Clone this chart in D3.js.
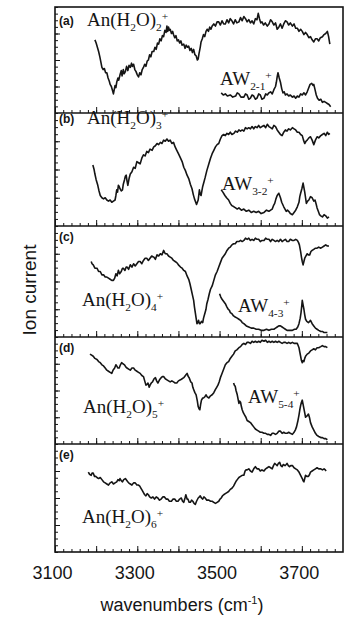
<!DOCTYPE html>
<html><head><meta charset="utf-8">
<script src="https://cdn.jsdelivr.net/npm/d3@7"></script>
<style>
html,body{margin:0;padding:0;background:#fff;}
svg{display:block;}
</style></head>
<body>
<svg id="c" width="349" height="617"></svg>
<script>
// ---- data: [wavenumber (cm-1), relative ion current within panel] ----
const specA = [[3197,.69],[3200,.66],[3203,.62],[3206,.58],[3209,.53],[3212,.47],[3214,.43],[3217,.41],[3220,.42],[3223,.38],[3226,.38],[3229,.33],[3232,.30],[3234,.27],[3237,.25],[3240,.21],[3242,.18],[3244,.22],[3246,.26],[3248,.24],[3250,.29],[3253,.33],[3255,.31],[3258,.36],[3261,.40],[3263,.35],[3266,.41],[3268,.37],[3271,.39],[3274,.44],[3277,.40],[3280,.45],[3283,.43],[3286,.47],[3288,.44],[3291,.46],[3294,.41],[3297,.39],[3300,.36],[3303,.34],[3306,.38],[3309,.36],[3312,.41],[3315,.43],[3318,.46],[3321,.44],[3324,.49],[3327,.50],[3330,.55],[3333,.53],[3336,.58],[3340,.58],[3343,.62],[3346,.60],[3349,.66],[3352,.65],[3355,.70],[3358,.68],[3361,.73],[3364,.72],[3367,.78],[3370,.76],[3372,.82],[3374,.77],[3376,.81],[3378,.78],[3380,.79],[3383,.75],[3386,.77],[3388,.74],[3391,.71],[3394,.73],[3397,.68],[3400,.69],[3403,.66],[3406,.68],[3409,.64],[3413,.65],[3416,.61],[3419,.64],[3422,.62],[3425,.63],[3428,.59],[3431,.61],[3434,.57],[3437,.60],[3440,.55],[3443,.54],[3446,.50],[3448,.51],[3450,.56],[3453,.62],[3455,.67],[3458,.70],[3461,.74],[3464,.72],[3467,.77],[3470,.79],[3473,.77],[3476,.81],[3479,.79],[3482,.82],[3486,.84],[3490,.82],[3494,.86],[3498,.86],[3502,.83],[3506,.87],[3510,.84],[3514,.84],[3518,.88],[3522,.85],[3526,.89],[3530,.87],[3534,.84],[3538,.88],[3542,.85],[3547,.86],[3551,.90],[3555,.87],[3559,.91],[3563,.89],[3567,.86],[3571,.88],[3575,.85],[3579,.87],[3583,.84],[3587,.89],[3591,.88],[3594,.94],[3597,.89],[3600,.85],[3603,.86],[3607,.83],[3611,.85],[3616,.82],[3620,.84],[3624,.88],[3628,.86],[3632,.83],[3636,.85],[3640,.79],[3644,.81],[3648,.84],[3652,.80],[3656,.84],[3660,.87],[3664,.86],[3668,.83],[3672,.85],[3677,.82],[3681,.84],[3685,.80],[3689,.80],[3693,.77],[3697,.79],[3701,.77],[3705,.74],[3709,.76],[3713,.74],[3717,.71],[3721,.72],[3725,.69],[3729,.67],[3733,.70],[3737,.70],[3741,.68],[3745,.71],[3750,.72],[3754,.74],[3758,.75],[3762,.77],[3765,.72],[3768,.65]];
const awA = [[3504,.19],[3509,.17],[3514,.18],[3519,.16],[3526,.17],[3532,.15],[3539,.16],[3543,.19],[3547,.18],[3552,.15],[3559,.15],[3563,.18],[3567,.17],[3571,.13],[3575,.14],[3579,.17],[3583,.16],[3587,.13],[3591,.14],[3595,.18],[3599,.17],[3603,.13],[3608,.14],[3612,.18],[3616,.17],[3620,.19],[3624,.20],[3628,.18],[3632,.22],[3636,.25],[3638,.29],[3640,.34],[3642,.38],[3645,.33],[3648,.29],[3651,.23],[3654,.19],[3657,.20],[3660,.17],[3664,.18],[3668,.16],[3672,.17],[3677,.15],[3681,.16],[3685,.14],[3689,.16],[3693,.15],[3697,.18],[3701,.17],[3705,.19],[3709,.17],[3713,.20],[3717,.24],[3720,.27],[3724,.28],[3727,.26],[3729,.27],[3732,.22],[3735,.17],[3738,.14],[3742,.12],[3746,.13],[3750,.10],[3754,.11],[3758,.10],[3762,.09],[3766,.08],[3770,.06]];
const specB = [[3192,.54],[3195,.50],[3197,.46],[3200,.41],[3204,.36],[3207,.31],[3210,.27],[3214,.25],[3218,.24],[3222,.25],[3226,.23],[3230,.22],[3234,.23],[3238,.21],[3242,.22],[3246,.23],[3248,.27],[3250,.32],[3252,.30],[3254,.36],[3256,.35],[3258,.33],[3261,.31],[3264,.32],[3266,.37],[3269,.41],[3271,.44],[3273,.45],[3275,.40],[3277,.36],[3280,.42],[3283,.46],[3287,.48],[3291,.52],[3295,.51],[3299,.57],[3303,.56],[3307,.55],[3311,.60],[3315,.63],[3319,.62],[3323,.66],[3327,.65],[3331,.68],[3336,.67],[3340,.70],[3344,.71],[3348,.73],[3352,.72],[3356,.74],[3360,.73],[3364,.76],[3368,.75],[3372,.77],[3376,.75],[3380,.76],[3384,.73],[3388,.74],[3392,.70],[3396,.67],[3400,.64],[3404,.61],[3409,.57],[3413,.52],[3417,.49],[3421,.45],[3425,.42],[3429,.37],[3433,.33],[3436,.28],[3439,.24],[3442,.21],[3444,.19],[3446,.21],[3448,.23],[3450,.29],[3451,.32],[3453,.28],[3455,.27],[3457,.31],[3459,.35],[3462,.39],[3465,.43],[3469,.49],[3474,.55],[3478,.60],[3482,.64],[3486,.67],[3490,.70],[3494,.72],[3498,.73],[3502,.77],[3506,.80],[3510,.81],[3514,.80],[3518,.82],[3522,.81],[3526,.83],[3530,.81],[3535,.82],[3539,.84],[3543,.83],[3547,.85],[3551,.84],[3555,.85],[3559,.84],[3563,.87],[3567,.86],[3571,.87],[3575,.86],[3579,.88],[3583,.86],[3587,.88],[3591,.87],[3595,.89],[3599,.87],[3603,.88],[3608,.89],[3612,.87],[3616,.90],[3620,.88],[3624,.87],[3628,.86],[3632,.89],[3636,.88],[3640,.85],[3644,.83],[3648,.81],[3652,.80],[3656,.83],[3660,.85],[3664,.84],[3668,.86],[3672,.85],[3677,.87],[3681,.86],[3685,.85],[3689,.83],[3693,.83],[3697,.81],[3701,.80],[3704,.76],[3707,.73],[3710,.75],[3713,.76],[3717,.78],[3721,.79],[3725,.76],[3729,.72],[3733,.76],[3737,.79],[3741,.78],[3746,.80],[3750,.81],[3754,.82],[3758,.80],[3762,.83],[3765,.81],[3768,.82]];
const awB = [[3504,.32],[3508,.30],[3513,.27],[3517,.25],[3522,.23],[3526,.20],[3530,.18],[3535,.17],[3539,.16],[3543,.15],[3547,.16],[3553,.14],[3559,.15],[3565,.13],[3571,.14],[3577,.12],[3583,.13],[3589,.12],[3595,.13],[3601,.11],[3608,.12],[3614,.14],[3620,.13],[3624,.14],[3628,.15],[3631,.18],[3634,.20],[3637,.24],[3640,.27],[3644,.29],[3648,.25],[3651,.21],[3656,.17],[3659,.15],[3662,.13],[3665,.14],[3668,.13],[3672,.11],[3677,.10],[3681,.12],[3685,.14],[3689,.17],[3693,.21],[3695,.26],[3697,.29],[3700,.33],[3703,.38],[3705,.34],[3707,.30],[3709,.25],[3711,.20],[3714,.22],[3717,.23],[3721,.26],[3725,.25],[3729,.22],[3732,.23],[3735,.19],[3737,.16],[3740,.13],[3743,.10],[3746,.09],[3750,.08],[3754,.10],[3758,.09],[3762,.07],[3766,.08]];
const specC = [[3188,.68],[3190,.66],[3193,.65],[3197,.62],[3202,.62],[3206,.59],[3210,.59],[3214,.56],[3218,.56],[3222,.54],[3226,.54],[3230,.53],[3234,.52],[3238,.51],[3242,.51],[3245,.53],[3248,.57],[3251,.55],[3254,.60],[3257,.57],[3261,.59],[3264,.62],[3266,.62],[3270,.60],[3273,.63],[3275,.63],[3279,.61],[3283,.65],[3287,.63],[3291,.66],[3295,.64],[3299,.66],[3303,.68],[3307,.68],[3311,.66],[3315,.69],[3319,.71],[3323,.71],[3327,.69],[3331,.71],[3335,.73],[3340,.72],[3344,.70],[3348,.74],[3352,.73],[3356,.75],[3360,.74],[3364,.78],[3368,.75],[3372,.75],[3376,.73],[3380,.72],[3384,.71],[3388,.69],[3392,.68],[3396,.67],[3400,.65],[3405,.63],[3409,.62],[3413,.60],[3417,.59],[3421,.55],[3425,.52],[3428,.48],[3431,.43],[3434,.38],[3437,.33],[3439,.27],[3441,.22],[3443,.17],[3445,.12],[3447,.13],[3449,.15],[3451,.12],[3453,.12],[3456,.14],[3459,.13],[3461,.17],[3464,.21],[3467,.25],[3469,.30],[3472,.34],[3475,.39],[3478,.43],[3482,.46],[3486,.51],[3490,.56],[3494,.59],[3498,.63],[3502,.67],[3506,.71],[3510,.73],[3514,.75],[3518,.78],[3522,.80],[3526,.81],[3530,.83],[3534,.84],[3538,.84],[3542,.86],[3547,.86],[3551,.87],[3555,.86],[3559,.87],[3563,.89],[3567,.88],[3571,.89],[3575,.87],[3579,.88],[3583,.87],[3587,.89],[3591,.88],[3595,.88],[3599,.86],[3603,.87],[3608,.87],[3612,.89],[3616,.88],[3620,.88],[3624,.86],[3628,.88],[3632,.87],[3636,.86],[3640,.87],[3644,.86],[3648,.88],[3652,.86],[3656,.87],[3660,.88],[3664,.86],[3668,.86],[3672,.88],[3677,.87],[3681,.87],[3685,.88],[3689,.87],[3692,.85],[3694,.83],[3697,.77],[3699,.72],[3701,.68],[3703,.65],[3705,.68],[3707,.71],[3710,.73],[3713,.75],[3716,.74],[3719,.74],[3722,.77],[3725,.78],[3729,.79],[3733,.80],[3737,.80],[3741,.81],[3746,.80],[3750,.81],[3754,.82],[3758,.83],[3762,.82],[3766,.82]];
const awC = [[3500,.39],[3503,.36],[3506,.34],[3510,.32],[3514,.30],[3518,.27],[3521,.25],[3524,.24],[3526,.22],[3530,.21],[3534,.19],[3538,.18],[3543,.17],[3547,.16],[3551,.15],[3555,.13],[3559,.12],[3565,.10],[3571,.09],[3577,.08],[3583,.08],[3589,.07],[3595,.07],[3601,.06],[3608,.06],[3614,.07],[3620,.06],[3626,.07],[3632,.07],[3636,.08],[3640,.09],[3644,.10],[3648,.10],[3652,.09],[3656,.08],[3660,.07],[3664,.06],[3670,.06],[3677,.06],[3682,.07],[3686,.07],[3690,.09],[3693,.12],[3696,.17],[3698,.22],[3700,.29],[3701,.33],[3703,.29],[3705,.25],[3707,.20],[3709,.16],[3712,.14],[3716,.13],[3719,.14],[3721,.15],[3725,.12],[3729,.10],[3733,.08],[3737,.07],[3741,.06],[3746,.05],[3750,.05],[3754,.04],[3758,.04],[3762,.04]];
const specD = [[3185,.84],[3189,.83],[3193,.82],[3197,.80],[3202,.79],[3206,.77],[3210,.76],[3214,.74],[3218,.73],[3222,.71],[3226,.69],[3230,.68],[3234,.67],[3238,.66],[3241,.69],[3245,.71],[3248,.74],[3250,.73],[3253,.71],[3256,.71],[3259,.74],[3262,.76],[3265,.75],[3269,.74],[3272,.72],[3275,.71],[3279,.70],[3283,.69],[3287,.71],[3291,.71],[3295,.69],[3299,.68],[3303,.67],[3307,.66],[3311,.64],[3315,.63],[3318,.59],[3321,.55],[3324,.56],[3326,.57],[3329,.53],[3331,.55],[3334,.57],[3337,.58],[3341,.61],[3344,.62],[3347,.59],[3350,.57],[3354,.60],[3358,.62],[3361,.63],[3364,.63],[3368,.61],[3372,.60],[3376,.59],[3380,.58],[3384,.59],[3388,.58],[3392,.57],[3396,.57],[3400,.59],[3405,.60],[3409,.61],[3413,.62],[3417,.64],[3421,.66],[3424,.63],[3426,.62],[3430,.58],[3433,.57],[3435,.53],[3437,.51],[3440,.48],[3443,.46],[3446,.40],[3448,.35],[3450,.33],[3452,.32],[3454,.37],[3456,.41],[3459,.43],[3461,.43],[3464,.44],[3467,.46],[3470,.44],[3474,.43],[3478,.45],[3482,.46],[3486,.48],[3490,.51],[3493,.53],[3496,.55],[3499,.58],[3502,.62],[3505,.65],[3508,.68],[3511,.71],[3514,.74],[3518,.76],[3522,.77],[3526,.80],[3530,.82],[3534,.84],[3538,.87],[3542,.88],[3547,.90],[3551,.91],[3555,.93],[3559,.94],[3563,.93],[3567,.95],[3571,.95],[3575,.94],[3579,.96],[3583,.95],[3587,.96],[3591,.95],[3595,.96],[3599,.95],[3603,.97],[3608,.96],[3612,.97],[3616,.95],[3620,.96],[3624,.95],[3628,.96],[3632,.95],[3636,.96],[3640,.95],[3644,.96],[3648,.95],[3652,.94],[3656,.95],[3660,.95],[3664,.94],[3668,.95],[3672,.94],[3677,.95],[3681,.94],[3685,.94],[3689,.94],[3691,.92],[3693,.90],[3695,.86],[3697,.82],[3699,.78],[3701,.76],[3703,.78],[3705,.77],[3707,.80],[3709,.82],[3713,.84],[3717,.85],[3721,.87],[3725,.88],[3729,.89],[3733,.88],[3737,.90],[3741,.90],[3746,.91],[3750,.92],[3754,.91],[3758,.91],[3762,.90]];
const awD = [[3534,.57],[3536,.55],[3538,.54],[3540,.50],[3543,.46],[3545,.42],[3547,.38],[3549,.40],[3551,.39],[3553,.35],[3555,.32],[3558,.29],[3561,.27],[3564,.25],[3567,.22],[3571,.21],[3575,.20],[3579,.18],[3583,.16],[3587,.14],[3591,.13],[3595,.12],[3599,.11],[3603,.11],[3608,.10],[3612,.10],[3616,.09],[3620,.09],[3624,.08],[3628,.10],[3632,.10],[3636,.09],[3640,.10],[3644,.12],[3648,.12],[3652,.10],[3656,.11],[3660,.10],[3664,.10],[3668,.11],[3672,.10],[3677,.09],[3681,.11],[3684,.13],[3687,.16],[3690,.21],[3693,.27],[3695,.32],[3697,.36],[3699,.39],[3701,.41],[3703,.37],[3705,.33],[3707,.29],[3709,.25],[3712,.26],[3716,.28],[3719,.24],[3721,.20],[3725,.16],[3729,.13],[3733,.10],[3737,.08],[3741,.07],[3746,.06],[3750,.06],[3754,.05],[3758,.05],[3762,.04]];
const specE = [[3181,.74],[3184,.72],[3188,.71],[3190,.73],[3193,.73],[3196,.70],[3199,.70],[3202,.69],[3206,.68],[3210,.69],[3214,.67],[3218,.65],[3222,.64],[3226,.63],[3230,.62],[3234,.64],[3238,.65],[3242,.63],[3246,.64],[3250,.65],[3253,.67],[3256,.66],[3258,.68],[3261,.66],[3264,.65],[3267,.67],[3271,.68],[3275,.66],[3279,.64],[3283,.63],[3287,.62],[3291,.64],[3295,.64],[3299,.62],[3303,.62],[3306,.61],[3309,.59],[3312,.57],[3315,.55],[3318,.53],[3321,.52],[3324,.54],[3327,.53],[3330,.51],[3334,.50],[3338,.51],[3342,.49],[3346,.51],[3350,.50],[3354,.48],[3358,.49],[3362,.51],[3366,.51],[3370,.49],[3374,.49],[3378,.47],[3383,.47],[3387,.49],[3391,.49],[3395,.47],[3399,.47],[3403,.49],[3407,.50],[3410,.47],[3413,.46],[3416,.50],[3418,.53],[3421,.49],[3423,.49],[3426,.46],[3429,.46],[3432,.48],[3435,.47],[3438,.45],[3441,.44],[3444,.47],[3448,.50],[3451,.51],[3453,.52],[3456,.50],[3459,.49],[3462,.51],[3465,.50],[3469,.48],[3474,.48],[3478,.47],[3482,.47],[3486,.46],[3490,.45],[3494,.46],[3498,.47],[3501,.49],[3504,.50],[3507,.52],[3510,.53],[3514,.54],[3518,.55],[3522,.56],[3526,.58],[3530,.59],[3534,.61],[3538,.64],[3541,.66],[3543,.67],[3547,.69],[3551,.70],[3555,.71],[3559,.71],[3562,.75],[3564,.76],[3567,.76],[3571,.77],[3575,.75],[3579,.74],[3583,.77],[3587,.79],[3591,.77],[3595,.77],[3599,.75],[3603,.76],[3608,.75],[3612,.77],[3616,.78],[3620,.79],[3624,.78],[3628,.77],[3631,.80],[3634,.82],[3637,.81],[3640,.80],[3643,.82],[3646,.83],[3649,.80],[3652,.79],[3655,.81],[3659,.80],[3662,.81],[3664,.82],[3667,.80],[3670,.79],[3673,.80],[3677,.80],[3681,.78],[3685,.77],[3689,.76],[3693,.74],[3697,.71],[3701,.68],[3703,.66],[3705,.65],[3707,.68],[3709,.71],[3712,.70],[3716,.70],[3719,.72],[3721,.74],[3725,.75],[3729,.76],[3733,.77],[3737,.78],[3741,.77],[3746,.77],[3750,.76],[3754,.77],[3757,.76],[3759,.75]];

const spectra = [specA, specB, specC, specD, specE];
const awSpectra = [awA, awB, awC, awD, null];
const panelLabels = ["(a)", "(b)", "(c)", "(d)", "(e)"];
const clusterSizes = ["2", "3", "4", "5", "6"];
const awSubscripts = ["2-1", "3-2", "4-3", "5-4", null];
const tickLabels = [3100, 3300, 3500, 3700];
const xLabel = "wavenumbers (cm";
const yLabel = "Ion current";

// ---- layout ----
const L = 55, R = 343;
const edges = [7, 113, 226, 337, 444, 552];
// label placement per panel: [x, baseline offset from panel top]
const titlePos = [[87, 19], [87, 11], [82, 80], [83, 76], [82, 79]];
const awPos = [[220, 78], [222, 77], [238, 86], [248, 66], null];

const svg = d3.select("#c");
const x = d3.scaleLinear().domain([3100, 3800]).range([L, R]);

const serif = "'Liberation Serif','Times New Roman',serif";
const sans = "'Liberation Sans',Arial,Helvetica,sans-serif";
const ink = "#151515";

function richText(g, xx, yy, size, parts) {
  const t = g.append("text").attr("x", xx).attr("y", yy)
    .attr("font-family", serif).attr("font-size", size).attr("fill", ink);
  let shift = 0;
  parts.forEach(p => {
    const target = p.mode === "sub" ? size * 0.26 : p.mode === "sup" ? -size * 0.33 : 0;
    const fs = p.mode ? size * 0.6 : size;
    t.append("tspan").attr("dy", target - shift).attr("font-size", fs).text(p.t);
    shift = target;
  });
  return t;
}

for (let i = 0; i < 5; i++) {
  const top = edges[i], bot = edges[i + 1];
  const y = d3.scaleLinear().domain([0, 1]).range([bot, top]);
  const g = svg.append("g");

  // bottom ticks (pointing into panel)
  g.append("g").attr("transform", `translate(0,${bot})`)
    .call(d3.axisBottom(x).tickValues(d3.range(3100, 3800, 20)).tickSize(-3).tickFormat(""))
    .call(s => s.select(".domain").remove());
  g.append("g").attr("transform", `translate(0,${bot})`)
    .call(d3.axisBottom(x).tickValues(d3.range(3100, 3800, 100)).tickSize(-6).tickFormat(""))
    .call(s => s.select(".domain").remove());
  // left ticks
  g.append("g").attr("transform", `translate(${L},0)`)
    .call(d3.axisLeft(y).tickValues(d3.range(0, 1.001, 1 / 16)).tickSize(-3).tickFormat(""))
    .call(s => s.select(".domain").remove());
  g.append("g").attr("transform", `translate(${L},0)`)
    .call(d3.axisLeft(y).tickValues([0.25, 0.5, 0.75]).tickSize(-5).tickFormat(""))
    .call(s => s.select(".domain").remove());

  const line = d3.line().x(d => x(d[0])).y(d => y(d[1]));
  g.append("path").datum(spectra[i]).attr("d", line)
    .attr("fill", "none").attr("stroke", ink).attr("stroke-width", 1.6).attr("stroke-linejoin", "round");
  if (awSpectra[i]) {
    g.append("path").datum(awSpectra[i]).attr("d", line)
      .attr("fill", "none").attr("stroke", ink).attr("stroke-width", 1.6).attr("stroke-linejoin", "round");
  }

  // panel letter
  g.append("text").attr("x", L + 4).attr("y", top + (i < 2 ? titlePos[i][1] - 1 : 15))
    .attr("font-family", sans).attr("font-weight", "bold").attr("font-size", 12).attr("fill", ink)
    .text(panelLabels[i]);
  // cluster title
  const tp = titlePos[i];
  richText(g, tp[0], top + tp[1], 19, [
    { t: "An(H" }, { t: "2", mode: "sub" }, { t: "O)" }, { t: clusterSizes[i], mode: "sub" }, { t: "+", mode: "sup" }
  ]);
  if (awPos[i]) {
    richText(g, awPos[i][0], top + awPos[i][1], 19, [
      { t: "AW" }, { t: awSubscripts[i], mode: "sub" }, { t: "+", mode: "sup" }
    ]);
  }
}

// frame
svg.append("rect").attr("x", L).attr("y", edges[0]).attr("width", R - L).attr("height", edges[5] - edges[0])
  .attr("fill", "none").attr("stroke", ink).attr("stroke-width", 1.6);
for (let i = 1; i < 5; i++) {
  svg.append("line").attr("x1", L).attr("x2", R).attr("y1", edges[i]).attr("y2", edges[i])
    .attr("stroke", ink).attr("stroke-width", 1.6);
}
svg.selectAll(".tick line").attr("stroke", ink).attr("stroke-width", 1);

// x tick labels
svg.append("g").attr("transform", `translate(0,${edges[5]})`)
  .call(d3.axisBottom(x).tickValues(tickLabels).tickSize(0).tickPadding(14).tickFormat(d3.format("d")))
  .call(s => s.select(".domain").remove())
  .call(s => s.selectAll("text").attr("font-family", sans).attr("font-size", 18).attr("fill", ink).attr("dx", -3));

// axis titles
const xt = svg.append("text").attr("x", 182).attr("y", 611).attr("text-anchor", "middle")
  .attr("font-family", sans).attr("font-size", 18).attr("fill", ink);
xt.append("tspan").text(xLabel);
xt.append("tspan").attr("dy", -7).attr("font-size", 11).text("-1");
xt.append("tspan").attr("dy", 7).text(")");

svg.append("text").attr("transform", "translate(36,290) rotate(-90)").attr("text-anchor", "middle")
  .attr("font-family", sans).attr("font-size", 19).attr("fill", ink).text(yLabel);
</script>
</body></html>
